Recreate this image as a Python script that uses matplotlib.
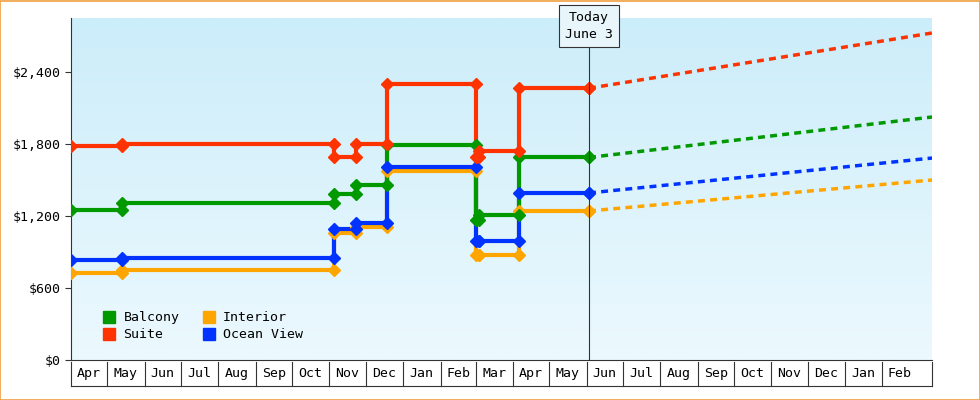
import matplotlib
matplotlib.use("Agg")
import matplotlib.pyplot as plt
import matplotlib.dates as mdates
import numpy as np
from datetime import datetime, timedelta
from matplotlib.patches import Rectangle
from matplotlib.lines import Line2D

D = lambda s: datetime.strptime(s, "%Y-%m-%d")

# change dates (step points)
change_dates = ["2023-04-01", "2023-05-13", "2023-11-05", "2023-11-23", "2023-12-19",
                "2024-03-01", "2024-03-04", "2024-04-06", "2024-06-03"]
suite    = [1780, 1800, 1690, 1800, 2300, 1690, 1740, 2265, 2265]
balcony  = [1250, 1305, 1380, 1455, 1790, 1165, 1212, 1688, 1688]
ocean    = [835, 850, 1090, 1140, 1605, 995, 995, 1392, 1392]
interior = [725, 750, 1055, 1110, 1578, 872, 872, 1242, 1242]
forecast_end = "2025-03-14"
forecast = {"Suite": 2725, "Balcony": 2025, "Ocean View": 1683, "Interior": 1500}
today = "2024-06-03"

months = ["Apr", "May", "Jun", "Jul", "Aug", "Sep", "Oct", "Nov", "Dec", "Jan", "Feb", "Mar",
          "Apr", "May", "Jun", "Jul", "Aug", "Sep", "Oct", "Nov", "Dec", "Jan", "Feb"]
yticks = [0, 600, 1200, 1800, 2400]

series = [("Balcony", balcony, "#009900"), ("Suite", suite, "#ff3300"),
          ("Interior", interior, "#ffa500"), ("Ocean View", ocean, "#0033ff")]
draw_order = ["Interior", "Ocean View", "Balcony", "Suite"]

fig = plt.figure(figsize=(9.8, 4), dpi=100)
fig.patch.set_facecolor("white")
fig.patches.append(Rectangle((0.0005, 0.001), 0.999, 0.997, transform=fig.transFigure,
                             fill=False, edgecolor="#f0a040", lw=1.2))
ax = fig.add_axes([71/980, 40/400, (932-71)/980, 342/400])
mono = "DejaVu Sans Mono"

x0, x1 = D("2023-04-01"), D(forecast_end)
ax.set_xlim(x0, x1)
ax.set_ylim(0, 2850)
grad = np.linspace(0, 1, 256).reshape(-1, 1)
from matplotlib.colors import LinearSegmentedColormap
cm = LinearSegmentedColormap.from_list("bg", ["#ecf9fe", "#ccedfa"])
ax.imshow(grad, aspect="auto", cmap=cm, origin="lower",
          extent=[mdates.date2num(x0), mdates.date2num(x1), 0, 2850], zorder=0)

dates = [D(d) for d in change_dates]
sd = dict((n, (v, c)) for n, v, c in series)
for name in draw_order:
    vals, col = sd[name]
    ax.plot(dates, vals, drawstyle="steps-post", color=col, lw=3, zorder=3)
    # markers at start and end of each level
    mx, my = [], []
    for i in range(len(dates) - 1):
        mx += [dates[i], dates[i + 1]]
        my += [vals[i], vals[i]]
    mx.append(dates[-1]); my.append(vals[-1])
    ax.plot(mx, my, "D", color=col, ms=6, zorder=4, ls="none")
    ax.plot([D(today), D(forecast_end)], [vals[-1], forecast[name]], color=col, lw=2.5,
            ls=(0, (2, 1.5)), zorder=3)

# today line and label
ax.axvline(D(today), color="#333333", lw=0.8, zorder=5)
ax.text(D(today), 2785, "Today\nJune 3", ha="center", va="center", family=mono, fontsize=9.5,
        linespacing=1.4, zorder=6,
        bbox=dict(boxstyle="square,pad=0.45", fc="#e8f6fb", ec="#333333", lw=0.8))

ax.set_yticks(yticks)
ax.set_yticklabels([f"${v:,}" for v in yticks], family=mono, fontsize=9.5)
ax.tick_params(axis="y", length=4, color="#333333")
ax.set_xticks([])
for s in ["top", "right"]:
    ax.spines[s].set_visible(False)
ax.spines["left"].set_color("#333333")
ax.spines["bottom"].set_color("#333333")

# month boxes
trans = ax.get_xaxis_transform()
mstarts = []
y, m = 2023, 4
for i in range(len(months) + 1):
    mstarts.append(datetime(y, m, 1))
    m += 1
    if m > 12:
        m = 1; y += 1
ybot = -0.075
for i, lab in enumerate(months):
    a = mstarts[i]; b = min(mstarts[i + 1], x1)
    ax.plot([a, a], [-0.006, ybot], transform=trans, color="#333333", lw=0.8, clip_on=False)
    mid = a + (b - a) / 2 if i < len(months) - 1 else a + (mstarts[i+1] - a) / 2
    ax.text(mid, (ybot - 0.006) / 2, lab, transform=trans, ha="center", va="center",
            family=mono, fontsize=9.5)
ax.plot([x0, x1], [ybot, ybot], transform=trans, color="#333333", lw=0.8, clip_on=False)
ax.plot([x1, x1], [-0.006, ybot], transform=trans, color="#333333", lw=0.8, clip_on=False)

handles = [Line2D([], [], marker="s", ls="none", color=c, ms=8) for _, _, c in series]
ax.legend(handles, [n for n, _, _ in series], ncol=2, loc="lower left", frameon=False,
          prop=dict(family=mono, size=9.5), handletextpad=0.1, columnspacing=1.2,
          labelspacing=0.3, bbox_to_anchor=(0.015, 0.02))

fig.savefig("out.png", dpi=100)
